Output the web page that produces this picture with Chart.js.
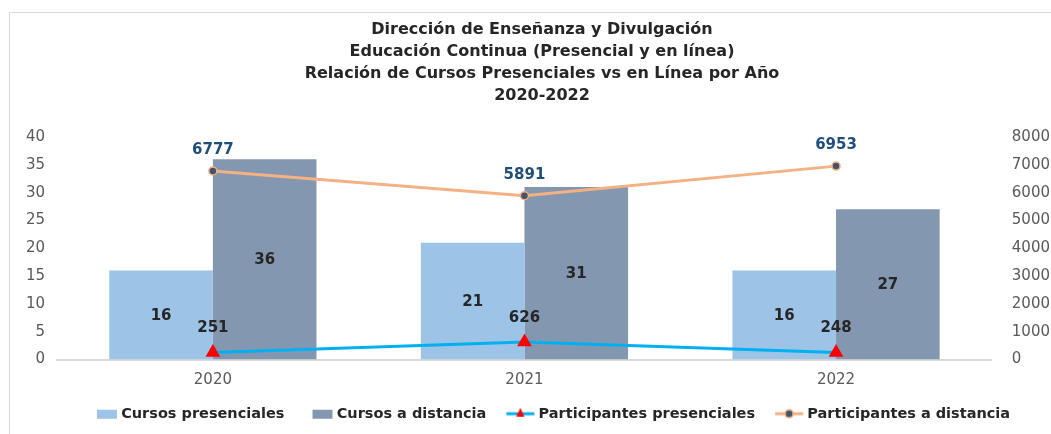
<!DOCTYPE html>
<html>
<head>
<meta charset="utf-8">
<script src="https://cdn.jsdelivr.net/npm/chart.js@4.4.1/dist/chart.umd.min.js"></script>
<style>
  html, body { margin: 0; padding: 0; background: #fff; overflow: hidden; }
  #marco { position: absolute; left: 9px; top: 12px; width: 1100px; height: 500px; border: 1px solid #d9d9d9; }
  #caja  { position: absolute; left: 0; top: 0; width: 1070px; height: 434px; }
</style>
</head>
<body>
<div id="marco"></div>
<div id="caja"><canvas id="grafico"></canvas></div>
<script>
const anios          = ['2020', '2021', '2022'];
const cursosPres     = [16, 21, 16];
const cursosDist     = [36, 31, 27];
const partPres       = [251, 626, 248];
const partDist       = [6777, 5891, 6953];
const titulo         = [
  'Dirección de Enseñanza y Divulgación',
  'Educación Continua (Presencial y en línea)',
  'Relación de Cursos Presenciales vs en Línea por Año',
  '2020-2022'
];
const FUENTE = "'DejaVu Sans', 'Open Sans', sans-serif";
const ANCHO_ICONO = 40;

// iconos de la leyenda (alineados a la derecha, el hueco de la izquierda separa los items)
function icono(tipo, colorLinea, colorMarca) {
  const c = document.createElement('canvas');
  c.width = ANCHO_ICONO + 8;
  c.height = 12;
  const g = c.getContext('2d');
  const fin = c.width - 1;
  if (tipo === 'barra') {
    g.fillStyle = colorLinea;
    g.fillRect(fin - 20, 2, 20, 9);
  } else {
    const x0 = fin - 28;
    g.strokeStyle = colorLinea; g.lineWidth = 3;
    g.beginPath(); g.moveTo(x0, 6); g.lineTo(x0 + 28, 6); g.stroke();
    if (tipo === 'triangulo') {
      g.fillStyle = colorMarca;
      g.beginPath(); g.moveTo(x0 + 14, 0); g.lineTo(x0 + 18, 9); g.lineTo(x0 + 10, 9); g.closePath(); g.fill();
    } else {
      g.fillStyle = colorMarca; g.strokeStyle = colorLinea; g.lineWidth = 1.5;
      g.beginPath(); g.arc(x0 + 14, 6, 4, 0, Math.PI * 2); g.fill(); g.stroke();
    }
  }
  return c;
}
const iconos = [
  icono('barra', '#9DC3E6'),
  icono('barra', '#8497B0'),
  icono('triangulo', '#00B0F0', '#FF0000'),
  icono('circulo', '#F4B183', '#44546A')
];

const etiquetas = {
  id: 'etiquetas',
  afterDatasetsDraw(chart) {
    const ctx = chart.ctx;
    ctx.save();
    ctx.textAlign = 'center';
    ctx.textBaseline = 'middle';
    ctx.font = `bold 15px ${FUENTE}`;
    chart.data.datasets.forEach((ds, i) => {
      const meta = chart.getDatasetMeta(i);
      meta.data.forEach((el, j) => {
        const v = ds.data[j];
        if (ds.type === 'bar') {
          ctx.fillStyle = '#262626';
          ctx.fillText(v, el.x, (el.y + el.base) / 2 + 1);
        } else {
          ctx.fillStyle = ds.colorEtiqueta;
          ctx.fillText(v, el.x, el.y - ds.desfase);
        }
      });
    });
    ctx.restore();
  }
};

new Chart(document.getElementById('grafico'), {
  data: {
    labels: anios,
    datasets: [
      { type: 'bar', label: 'Cursos presenciales', data: cursosPres, backgroundColor: '#9DC3E6',
        yAxisID: 'y', order: 2 },
      { type: 'bar', label: 'Cursos a distancia', data: cursosDist, backgroundColor: '#8497B0',
        yAxisID: 'y', order: 2 },
      { type: 'line', label: 'Participantes presenciales', data: partPres, yAxisID: 'y1', order: 0,
        borderColor: '#00B0F0', borderWidth: 3, pointStyle: 'triangle', pointRadius: 5.5,
        pointBackgroundColor: '#FF0000', pointBorderColor: '#FF0000', tension: 0,
        colorEtiqueta: '#262626', desfase: 24 },
      { type: 'line', label: 'Participantes a distancia', data: partDist, yAxisID: 'y1', order: 1,
        borderColor: '#F4B183', borderWidth: 3, pointStyle: 'circle', pointRadius: 4,
        pointBackgroundColor: '#44546A', pointBorderColor: '#F4B183', pointBorderWidth: 1.5, tension: 0,
        colorEtiqueta: '#1F4E79', desfase: 21 }
    ]
  },
  options: {
    responsive: true,
    maintainAspectRatio: false,
    animation: false,
    datasets: { bar: { categoryPercentage: 0.665, barPercentage: 1 } },
    layout: { padding: { left: 14, right: 0, top: 8, bottom: 3 } },
    scales: {
      x: {
        grid: { display: false, drawTicks: false },
        border: { color: '#d9d9d9', width: 2 },
        ticks: { color: '#595959', font: { size: 15, family: FUENTE }, padding: 12 }
      },
      y: {
        position: 'left', min: 0, max: 40,
        grid: { display: false, drawTicks: false },
        border: { display: false },
        ticks: { stepSize: 5, color: '#595959', font: { size: 15, family: FUENTE }, padding: 12 }
      },
      y1: {
        position: 'right', min: 0, max: 8000,
        grid: { display: false, drawTicks: false },
        border: { display: false },
        ticks: { stepSize: 1000, color: '#595959', font: { size: 15, family: FUENTE }, padding: 20,
          callback: v => String(v) }
      }
    },
    plugins: {
      title: {
        display: true, text: titulo, color: '#262626',
        font: { size: 16, weight: 'bold', family: FUENTE, lineHeight: 1.375 },
        padding: { top: 11, bottom: 30 }
      },
      legend: {
        position: 'bottom',
        labels: {
          usePointStyle: true, pointStyleWidth: ANCHO_ICONO, color: '#262626', padding: 5,
          font: { size: 14.5, weight: 'bold', family: FUENTE },
          generateLabels: chart => chart.data.datasets.map((ds, i) => ({
            text: ds.label, datasetIndex: i, pointStyle: iconos[i],
            fillStyle: 'transparent', strokeStyle: 'transparent', lineWidth: 0,
            fontColor: '#262626', hidden: false
          }))
        }
      },
      tooltip: { enabled: false }
    }
  },
  plugins: [etiquetas]
});
</script>
</body>
</html>
